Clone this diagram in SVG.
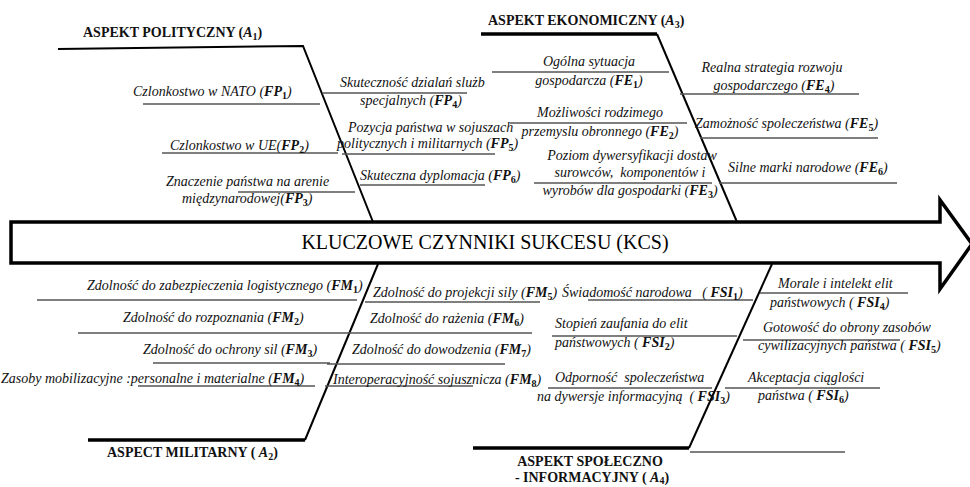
<svg xmlns="http://www.w3.org/2000/svg" width="970" height="487" viewBox="0 0 970 487">
<style>
.t{font-family:"Liberation Serif","Times New Roman",serif;font-size:14px;font-style:italic;fill:#111}
.m{font-weight:bold}
.s{font-size:10px;font-weight:bold;font-style:normal}
.h{font-family:"Liberation Serif","Times New Roman",serif;font-size:14px;font-weight:bold;fill:#111}
.hi{font-style:italic}
.hs{font-size:10px}
.c{text-anchor:middle}
.pre{white-space:pre}
.rib{stroke:#555;stroke-width:1.3;fill:none}
.bone{stroke:#000;stroke-width:2;fill:none}
.thick{stroke-width:3.5}
.kcs{font-family:"Liberation Serif","Times New Roman",serif;font-size:20px;fill:#000;text-anchor:middle}
</style>
<rect width="970" height="487" fill="#fff"/>
<g id="spine">
<polygon points="11,222 940,222 940,200 972,244 940,289 940,263 11,263" fill="#fff" stroke="#000" stroke-width="3.5" stroke-linejoin="miter"/>
<text class="kcs" x="485" y="249">KLUCZOWE CZYNNIKI SUKCESU (KCS)</text>
</g>
<g id="connectors">
<path class="bone" d="M58,49 L303,46 L373,222"/>
<path class="bone thick" d="M481,34 L657,34"/>
<path class="bone" d="M657,34 L737,222"/>
<path class="bone thick" d="M88,440 L305,440"/>
<path class="bone" d="M305,440 L378,264"/>
<path class="bone thick" d="M473,448 L689,448"/>
<path class="bone" d="M689,448 L772,264"/>
<path class="rib" d="M690,452 L845,452"/>
<path class="rib" d="M143,104H320 M322,93H467 M342,154H495 M162,153H338 M238,192H355 M360,185H485"/>
<path class="rib" d="M492,72H669 M680,94H859 M510,123H687 M700,138H878 M534,183H712 M719,183H897"/>
<path class="rib" d="M37,300H357 M78,333H343 M153,363H330 M138,386H315 M365,302H540 M340,333H532 M327,364H505 M325,386H473"/>
<path class="rib" d="M588,300H753 M552,336H737 M548,388H712 M760,293H908 M743,340H900 M725,388H880"/>
</g>
<g id="A1"><text class="h" x="83" y="37">ASPEKT POLITYCZNY (<tspan class="hi">A</tspan><tspan class="hs" dy="3">1</tspan><tspan dy="-3">)</tspan></text></g>
<g id="A3"><text class="h" x="488" y="25">ASPEKT EKONOMICZNY (<tspan class="hi">A</tspan><tspan class="hs" dy="3">3</tspan><tspan dy="-3">)</tspan></text></g>
<g id="A2"><text class="h" x="107" y="457">ASPECT MILITARNY ( <tspan class="hi">A</tspan><tspan class="hs" dy="3">2</tspan><tspan dy="-3">)</tspan></text></g>
<g id="A4"><text class="h c" x="590" y="466">ASPEKT SPOŁECZNO</text><text class="h c" x="592" y="482">- INFORMACYJNY ( <tspan class="hi">A</tspan><tspan class="hs" dy="2">4</tspan><tspan dy="-2">)</tspan></text></g>

<g id="FP1"><text class="t" x="133" y="96">Czlonkostwo w NATO (<tspan class="m">FP</tspan><tspan class="s" dy="3">1</tspan><tspan dy="-3">)</tspan></text></g>
<g id="FP2"><text class="t" x="170" y="150">Czlonkostwo w UE(<tspan class="m">FP</tspan><tspan class="s" dy="3">2</tspan><tspan dy="-3">)</tspan></text></g>
<g id="FP3"><text class="t" x="166" y="186">Znaczenie państwa na arenie</text><text class="t" x="182" y="203">międzynarodowej(<tspan class="m">FP</tspan><tspan class="s" dy="3">3</tspan><tspan dy="-3">)</tspan></text></g>
<g id="FP4"><text class="t" x="340" y="87">Skuteczność dzialań slużb</text><text class="t" x="360" y="105">specjalnych (<tspan class="m">FP</tspan><tspan class="s" dy="3">4</tspan><tspan dy="-3">)</tspan></text></g>
<g id="FP5"><text class="t" x="348" y="132">Pozycja państwa w sojuszach</text><text class="t" x="337" y="148">politycznych i militarnych (<tspan class="m">FP</tspan><tspan class="s" dy="3">5</tspan><tspan dy="-3">)</tspan></text></g>
<g id="FP6"><text class="t" x="360" y="180">Skuteczna dyplomacja (<tspan class="m">FP</tspan><tspan class="s" dy="3">6</tspan><tspan dy="-3">)</tspan></text></g>

<g id="FE1"><text class="t c" x="589" y="66">Ogólna sytuacja</text><text class="t c" x="589" y="85">gospodarcza (<tspan class="m">FE</tspan><tspan class="s" dy="3">1</tspan><tspan dy="-3">)</tspan></text></g>
<g id="FE2"><text class="t c" x="600" y="117">Możliwości rodzimego</text><text class="t c" x="600" y="136">przemyslu obronnego (<tspan class="m">FE</tspan><tspan class="s" dy="3">2</tspan><tspan dy="-3">)</tspan></text></g>
<g id="FE3"><text class="t c" x="632" y="160">Poziom dywersyfikacji dostaw</text><text class="t c pre" x="630" y="177">surowców,  komponentów i</text><text class="t c" x="630" y="195">wyrobów dla gospodarki (<tspan class="m">FE</tspan><tspan class="s" dy="3">3</tspan><tspan dy="-3">)</tspan></text></g>
<g id="FE4"><text class="t c" x="772" y="72">Realna strategia rozwoju</text><text class="t c" x="774" y="90">gospodarczego (<tspan class="m">FE</tspan><tspan class="s" dy="3">4</tspan><tspan dy="-3">)</tspan></text></g>
<g id="FE5"><text class="t" x="695" y="128">Zamożność spoleczeństwa (<tspan class="m">FE</tspan><tspan class="s" dy="3">5</tspan><tspan dy="-3">)</tspan></text></g>
<g id="FE6"><text class="t" x="728" y="172">Silne marki narodowe (<tspan class="m">FE</tspan><tspan class="s" dy="3">6</tspan><tspan dy="-3">)</tspan></text></g>

<g id="FM1"><text class="t" x="87" y="290">Zdolność do zabezpieczenia logistycznego (<tspan class="m">FM</tspan><tspan class="s" dy="3">1</tspan><tspan dy="-3">)</tspan></text></g>
<g id="FM2"><text class="t" x="123" y="322">Zdolność do rozpoznania (<tspan class="m">FM</tspan><tspan class="s" dy="3">2</tspan><tspan dy="-3">)</tspan></text></g>
<g id="FM3"><text class="t" x="143" y="354">Zdolność do ochrony sil (<tspan class="m">FM</tspan><tspan class="s" dy="3">3</tspan><tspan dy="-3">)</tspan></text></g>
<g id="FM4"><text class="t" x="1" y="383">Zasoby mobilizacyjne :personalne i materialne (<tspan class="m">FM</tspan><tspan class="s" dy="3">4</tspan><tspan dy="-3">)</tspan></text></g>
<g id="FM5"><text class="t" x="373" y="297">Zdolność do projekcji sily (<tspan class="m">FM</tspan><tspan class="s" dy="3">5</tspan><tspan dy="-3">)</tspan></text></g>
<g id="FM6"><text class="t" x="370" y="323">Zdolność do rażenia (<tspan class="m">FM</tspan><tspan class="s" dy="3">6</tspan><tspan dy="-3">)</tspan></text></g>
<g id="FM7"><text class="t" x="352" y="354">Zdolność do dowodzenia (<tspan class="m">FM</tspan><tspan class="s" dy="3">7</tspan><tspan dy="-3">)</tspan></text></g>
<g id="FM8"><text class="t" x="333" y="384">Interoperacyjność sojusznicza (<tspan class="m">FM</tspan><tspan class="s" dy="3">8</tspan><tspan dy="-3">)</tspan></text></g>

<g id="FSI1"><text class="t pre" x="562" y="297">Świadomość narodowa   ( <tspan class="m">FSI</tspan><tspan class="s" dy="3">1</tspan><tspan dy="-3">)</tspan></text></g>
<g id="FSI2"><text class="t" x="555" y="328">Stopień zaufania do elit</text><text class="t" x="555" y="347">państwowych ( <tspan class="m">FSI</tspan><tspan class="s" dy="3">2</tspan><tspan dy="-3">)</tspan></text></g>
<g id="FSI3"><text class="t pre" x="555" y="382">Odporność  spoleczeństwa</text><text class="t pre" x="537" y="401">na dywersje informacyjną  ( <tspan class="m">FSI</tspan><tspan class="s" dy="3">3</tspan><tspan dy="-3">)</tspan></text></g>
<g id="FSI4"><text class="t" x="778" y="288">Morale i intelekt elit</text><text class="t" x="770" y="307">państwowych ( <tspan class="m">FSI</tspan><tspan class="s" dy="3">4</tspan><tspan dy="-3">)</tspan></text></g>
<g id="FSI5"><text class="t" x="763" y="332">Gotowość do obrony zasobów</text><text class="t" x="758" y="350">cywilizacyjnych państwa ( <tspan class="m">FSI</tspan><tspan class="s" dy="3">5</tspan><tspan dy="-3">)</tspan></text></g>
<g id="FSI6"><text class="t" x="748" y="382">Akceptacja ciąglości</text><text class="t" x="758" y="400">państwa ( <tspan class="m">FSI</tspan><tspan class="s" dy="3">6</tspan><tspan dy="-3">)</tspan></text></g>
</svg>
